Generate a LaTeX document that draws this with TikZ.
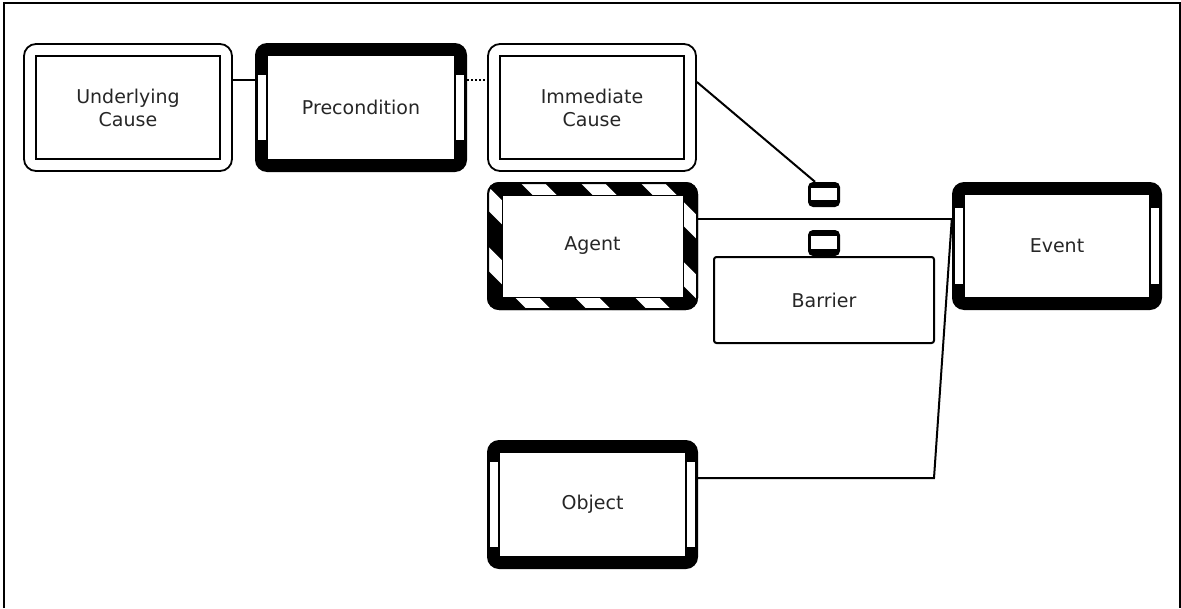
\documentclass[tikz,border=0pt]{standalone}
\usepackage{fontspec}
\setmainfont{DejaVu Sans}
\usetikzlibrary{calc}
\begin{document}
\begin{tikzpicture}[x=1pt,y=-1pt,
  lbl/.style={font=\fontsize{19}{23}\selectfont, text=black!85, align=center, inner sep=0pt},
  conn/.style={line width=2pt, black},
  % thin rounded frame with a heavier square frame inside
  doublebox/.style={lbl, draw, line width=1.8pt, rounded corners=12pt,
    path picture={
      \draw[line width=2.7pt, sharp corners]
        ([shift={(12pt,-12pt)}]path picture bounding box.north west) rectangle
        ([shift={(-12pt,12pt)}]path picture bounding box.south east);
    }},
  % heavy black frame with white slots in both sides
  thickbox/.style={lbl, fill=black, rounded corners=12pt,
    path picture={
      \fill[white, sharp corners]
        ([shift={(13pt,-13pt)}]path picture bounding box.north west) rectangle
        ([shift={(-13pt,13pt)}]path picture bounding box.south east);
      \fill[white, sharp corners]
        ([shift={(3pt,-#1)}]path picture bounding box.north west) rectangle
        ([shift={(11pt,#1)}]path picture bounding box.south west);
      \fill[white, sharp corners]
        ([shift={(-11pt,-#1)}]path picture bounding box.north east) rectangle
        ([shift={(-3pt,#1)}]path picture bounding box.south east);
    }},
  thickbox/.default=26pt,
  % heavy frame striped black and white
  hazardbox/.style={lbl, fill=black, rounded corners=12pt,
    path picture={
      \foreach \k in {-3,...,3}{
        \pgfmathsetmacro\pa{44.5+60*\k-12-10}
        \pgfmathsetmacro\pb{44.5+60*\k+12-10}
        \pgfmathsetmacro\pc{44.5+60*\k+12+140}
        \pgfmathsetmacro\pd{44.5+60*\k-12+140}
        \fill[white, sharp corners]
          ([shift={(\pa pt,10pt)}]path picture bounding box.north west) --
          ([shift={(\pb pt,10pt)}]path picture bounding box.north west) --
          ([shift={(\pc pt,-140pt)}]path picture bounding box.north west) --
          ([shift={(\pd pt,-140pt)}]path picture bounding box.north west) -- cycle;
      }
      \draw[black, line width=4pt, rounded corners=12pt]
        (path picture bounding box.south west) rectangle
        (path picture bounding box.north east);
      \fill[white, sharp corners]
        ([shift={(15pt,-13pt)}]path picture bounding box.north west) rectangle
        ([shift={(-15pt,13pt)}]path picture bounding box.south east);
      \draw[black, line width=1pt, sharp corners]
        ([shift={(15pt,-13pt)}]path picture bounding box.north west) rectangle
        ([shift={(-15pt,13pt)}]path picture bounding box.south east);
    }},
  smallbox/.style={fill=black, rounded corners=5pt, minimum width=32pt,
    minimum height=25pt, inner sep=0pt,
    path picture={
      \fill[white, sharp corners]
        ([shift={(3pt,-6pt)}]path picture bounding box.north west) rectangle
        ([shift={(-3pt,7pt)}]path picture bounding box.south east);
    }},
  plainbox/.style={lbl, draw, line width=2pt, rounded corners=2.5pt}
]
\useasboundingbox (0,0) rectangle (1181,608);

% outer frame (open at the bottom)
\draw[line width=1.8pt] (4,608) -- (4,3) -- (1180,3) -- (1180,608);

% boxes
\node[doublebox, minimum width=208pt, minimum height=127pt] (uc) at (128,107.5) {Underlying\\Cause};
\node[thickbox=32pt, minimum width=212pt, minimum height=129pt] (pc) at (361,107.5) {Precondition};
\node[doublebox, minimum width=208pt, minimum height=127pt] (ic) at (592,107.5) {Immediate\\Cause};
\node[hazardbox, minimum width=211pt, minimum height=128pt] (ag) at (592.5,246) {Agent};
\node[smallbox] (g1) at (824,194.5) {};
\node[smallbox, minimum height=26pt] (g2) at (824,243) {};
\node[plainbox, minimum width=220pt, minimum height=86pt] (ba) at (824,300) {Barrier};
\node[thickbox=26pt, minimum width=210pt, minimum height=128pt] (ev) at (1057,246) {Event};
\node[thickbox=22pt, minimum width=211pt, minimum height=129pt] (ob) at (592.5,504.5) {Object};

% connectors
\draw[conn] ([yshift=27.5pt]uc.east) -- ([yshift=27.5pt]pc.west);
\draw[conn, line width=1.5pt, dash pattern=on 1.5pt off 2.5pt]
  ([yshift=27.5pt]pc.east) -- ([yshift=27.5pt]ic.west);
\draw[conn] ([yshift=25.5pt]ic.east) -- ([xshift=-9pt]g1.north);
\draw[conn] ([yshift=27pt]ag.east) -- ([yshift=27pt]ev.west);
\coordinate (bend) at (934,478);
\draw[conn] ([yshift=26.5pt]ob.east) -- (bend) -- ([yshift=27pt]ev.west);
\end{tikzpicture}
\end{document}
